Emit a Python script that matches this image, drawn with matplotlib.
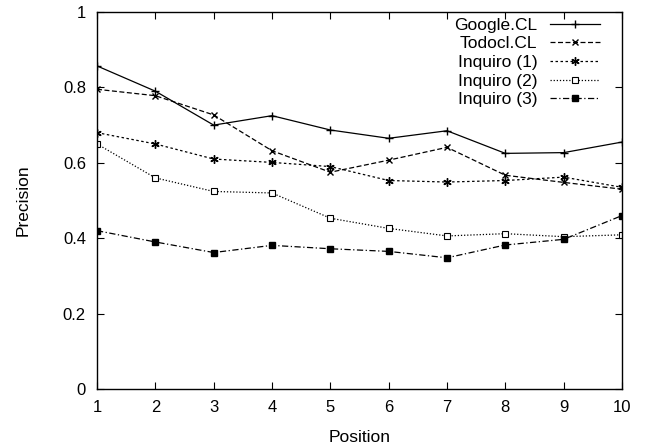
import matplotlib
matplotlib.use("Agg")
import matplotlib.pyplot as plt

plt.rcParams['font.family'] = ['Liberation Sans', 'DejaVu Sans']

positions = [1, 2, 3, 4, 5, 6, 7, 8, 9, 10]
google = [0.857, 0.790, 0.700, 0.725, 0.687, 0.665, 0.685, 0.625, 0.627, 0.655]
todocl = [0.795, 0.778, 0.727, 0.632, 0.575, 0.607, 0.641, 0.567, 0.548, 0.530]
inquiro1 = [0.680, 0.650, 0.610, 0.601, 0.590, 0.553, 0.549, 0.553, 0.562, 0.535]
inquiro2 = [0.650, 0.560, 0.524, 0.520, 0.453, 0.426, 0.406, 0.412, 0.404, 0.409]
inquiro3 = [0.420, 0.390, 0.362, 0.381, 0.372, 0.365, 0.348, 0.382, 0.397, 0.460]

fig = plt.figure(figsize=(6.5, 4.45), dpi=100)
# plot area roughly 97..622 px wide, 12..389 px tall
ax = fig.add_axes([97 / 650, 56 / 445, 525 / 650, 377 / 445])

lw = 0.9
ax.plot(positions, google, c="black", lw=lw, ls="-", marker="+", ms=6, label="Google.CL")
ax.plot(positions, todocl, c="black", lw=lw, ls=(0, (4, 2)), marker="x", ms=5, label="Todocl.CL")
ax.plot(positions, inquiro1, c="black", lw=lw, ls=(0, (2, 2)), marker=(6, 2, 0), ms=6, label="Inquiro (1)")
ax.plot(positions, inquiro2, c="black", lw=lw, ls=(0, (1, 1.5)), marker="s", ms=5,
        mfc="white", mew=0.8, label="Inquiro (2)")
ax.plot(positions, inquiro3, c="black", lw=lw, ls=(0, (5, 2, 1, 2)), marker="s", ms=5, label="Inquiro (3)")

ax.set_xlim(1, 10)
ax.set_ylim(0, 1)
ax.set_xticks(positions)
ax.set_yticks([0, 0.2, 0.4, 0.6, 0.8, 1])
ax.set_yticklabels(["0", "0.2", "0.4", "0.6", "0.8", "1"])
ax.tick_params(axis="both", direction="in", top=True, right=True, labelsize=12, length=5, pad=8)
for s in ax.spines.values():
    s.set_linewidth(1.0)

ax.set_xlabel("Position", fontsize=12.5)
ax.set_ylabel("Precision", fontsize=12.5)
ax.xaxis.set_label_coords(0.5, -0.108)
ax.yaxis.set_label_coords(-0.126, 0.5)

leg = ax.legend(loc="upper right", bbox_to_anchor=(0.958, 0.985), frameon=False,
                markerfirst=False, numpoints=1, fontsize=12.5, handlelength=2.9,
                labelspacing=0.2, borderpad=0, borderaxespad=0, handletextpad=0.7)
# right-align the entries like gnuplot does
for col in leg._legend_handle_box.get_children():
    col.align = "right"

fig.savefig("out.png", dpi=100)
